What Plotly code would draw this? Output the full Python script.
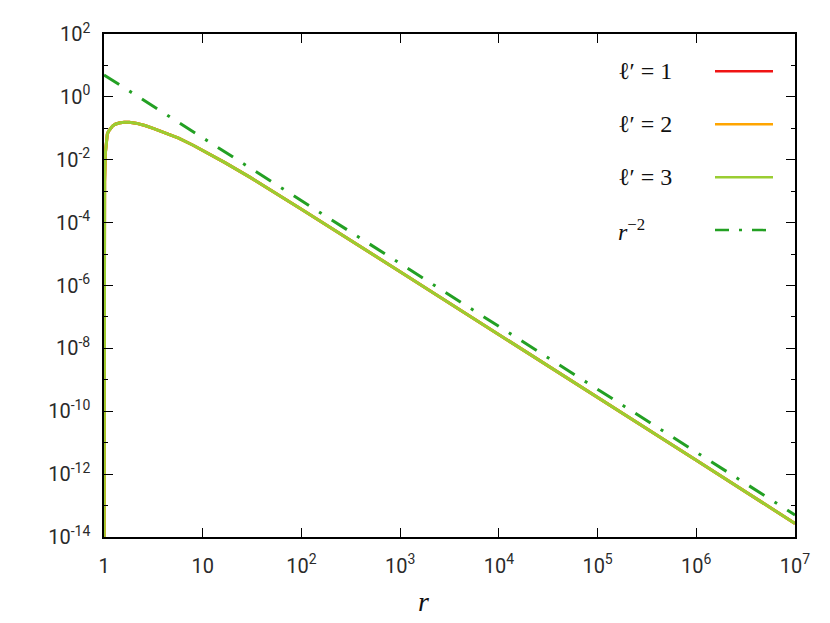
import plotly.graph_objects as go

# curve data (the three l' curves lie on top of each other)
r_vals = [1.0, 1.004, 1.008, 1.015, 1.03, 1.05, 1.08, 1.11, 1.16, 1.22, 1.3, 1.42, 1.6,
          1.8, 2.1, 2.6, 3.2, 4.0, 5.7, 8.0, 11.0, 16.8, 30.0, 60.0, 100.0,
          1e3, 1e4, 1e5, 1e6, 1e7]
y_l1 = [1e-16, 1e-9, 1e-5, 2e-3, 0.015, 0.038, 0.065, 0.08, 0.1, 0.118, 0.135, 0.148, 0.155,
        0.155, 0.146, 0.123, 0.098, 0.076, 0.049, 0.029, 0.017, 0.0081, 0.0028, 7.3e-4, 2.65e-4,
        2.75e-6, 2.8e-8, 2.8e-10, 2.75e-12, 2.7e-14]
y_l2 = list(y_l1)
y_l3 = list(y_l1)

r_ref = [1.0, 1e7]
y_ref = [5.0, 5e-14]

series = [
    ("\u2113\u2032 = 1", y_l1, "#f01414"),
    ("\u2113\u2032 = 2", y_l2, "#ffa500"),
    ("\u2113\u2032 = 3", y_l3, "#9acd32"),
]

ytick_vals = [10.0 ** k for k in range(-14, 3, 2)]
ytick_text = ["10<sup>%d</sup>" % k for k in range(-14, 3, 2)]
yminor_vals = [10.0 ** k for k in range(-13, 2, 2)]
xtick_vals = [10.0 ** k for k in range(0, 8)]
xtick_text = ["1", "10"] + ["10<sup>%d</sup>" % k for k in range(2, 8)]

fig = go.Figure()
for name, ys, col in series:
    fig.add_trace(go.Scatter(x=r_vals, y=ys, mode="lines", name=name,
                             line=dict(color=col, width=3), showlegend=False))
fig.add_trace(go.Scatter(x=r_ref, y=y_ref, mode="lines", name="r^-2",
                         line=dict(color="#23a023", width=3, dash="18px,12px,3px,12px"),
                         showlegend=False))

# page body has an 8px margin, so the figure is a bit smaller than the window
W, H = 822, 615
L, R, T, B = 96, 35, 16, 86
pw, ph = W - L - R, H - T - B

def px(x):
    return (x - 8 - L) / pw

def py(y):
    return 1 - (y - 8 - T) / ph

# legend drawn by hand: text on the left, line sample on the right
serif = "Liberation Serif"
leg_y = [62, 116, 170, 224]
leg_labels = [s[0] for s in series] + ["<i>r</i><sup>\u22122</sup>"]
leg_cols = [s[2] for s in series] + ["#23a023"]
leg_dash = ["solid", "solid", "solid", "14px,10px,3px,10px"]
for yy, lab, col, dsh in zip(leg_y, leg_labels, leg_cols, leg_dash):
    fig.add_annotation(x=px(616), y=py(yy), xref="paper", yref="paper",
                       text=lab, showarrow=False, xanchor="left", yanchor="middle",
                       font=dict(family=serif, size=24, color="#111"))
    fig.add_shape(type="line", xref="paper", yref="paper",
                  x0=px(715), x1=px(773), y0=py(yy), y1=py(yy),
                  line=dict(color=col, width=2.5, dash=dsh))

fig.add_annotation(x=px(423), y=py(603), xref="paper", yref="paper",
                   text="<i>r</i>", showarrow=False, xanchor="center", yanchor="middle",
                   font=dict(family=serif, size=28, color="#111"))

axis_common = dict(showline=True, linecolor="black", linewidth=1.5, mirror="ticks",
                   ticks="inside", ticklen=9, tickwidth=1.2, tickcolor="black",
                   showgrid=False, zeroline=False,
                   tickfont=dict(family="Roboto", size=20, color="#2a2a2a"))

fig.update_xaxes(type="log", range=[0, 7], tickvals=xtick_vals, ticktext=xtick_text,
                 ticklabelstandoff=10, **axis_common)
fig.update_yaxes(type="log", range=[-14, 2], tickvals=ytick_vals, ticktext=ytick_text,
                 ticklabelstandoff=8,
                 minor=dict(tickvals=yminor_vals, ticks="inside", ticklen=4,
                            tickcolor="black", tickwidth=1.2),
                 **axis_common)

fig.update_layout(width=W, height=H, margin=dict(l=L, r=R, t=T, b=B),
                  plot_bgcolor="white", paper_bgcolor="white")

fig.write_html("out.html")
